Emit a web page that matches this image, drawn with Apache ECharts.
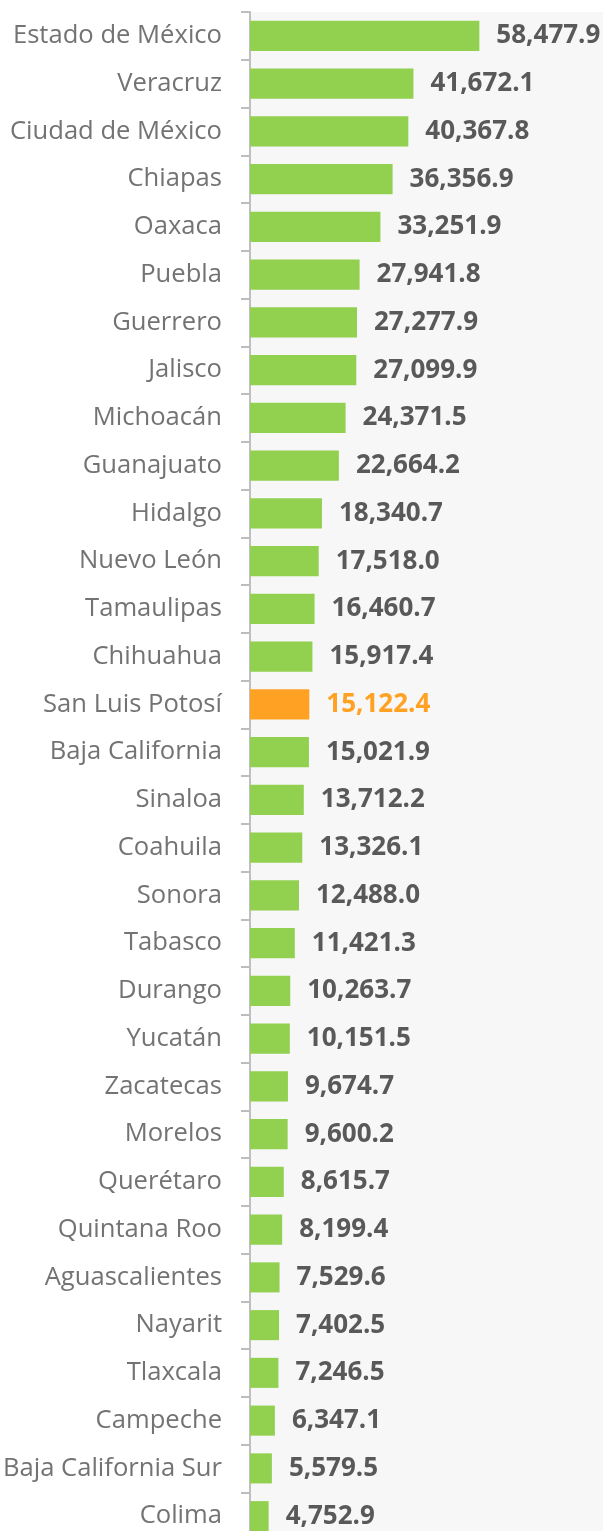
<!DOCTYPE html>
<html>
<head>
<meta charset="utf-8">
<script src="https://cdn.jsdelivr.net/npm/echarts@6/dist/echarts.min.js"></script>
<style>
  html, body { margin: 0; padding: 0; background: #fff; }
  #chart { width: 603px; height: 1531px; }
</style>
</head>
<body>
<div id="chart"></div>
<script>
  // entidades
  let estados = ['Estado de México', 'Veracruz', 'Ciudad de México', 'Chiapas', 'Oaxaca', 'Puebla',
    'Guerrero', 'Jalisco', 'Michoacán', 'Guanajuato', 'Hidalgo', 'Nuevo León', 'Tamaulipas',
    'Chihuahua', 'San Luis Potosí', 'Baja California', 'Sinaloa', 'Coahuila', 'Sonora', 'Tabasco',
    'Durango', 'Yucatán', 'Zacatecas', 'Morelos', 'Querétaro', 'Quintana Roo', 'Aguascalientes',
    'Nayarit', 'Tlaxcala', 'Campeche', 'Baja California Sur', 'Colima'];
  let valores = [58477.9, 41672.1, 40367.8, 36356.9, 33251.9, 27941.8, 27277.9, 27099.9, 24371.5,
    22664.2, 18340.7, 17518.0, 16460.7, 15917.4, 15122.4, 15021.9, 13712.2, 13326.1, 12488.0,
    11421.3, 10263.7, 10151.5, 9674.7, 9600.2, 8615.7, 8199.4, 7529.6, 7402.5, 7246.5, 6347.1,
    5579.5, 4752.9];
  let destacado = 'San Luis Potosí';

  let verde = '#92d050';
  let naranja = '#ffa123';

  let myChart = echarts.init(document.getElementById('chart'));
  let option = {
    animation: false,
    textStyle: { fontFamily: 'Open Sans' },
    grid: {
      left: 250, right: 0, top: 12, height: 1528,
      outerBoundsMode: 'none', containLabel: false,
      show: true, backgroundColor: '#f7f7f7', borderWidth: 0
    },
    xAxis: {
      type: 'value', min: 0, max: 90000, show: false
    },
    yAxis: {
      type: 'category',
      inverse: true,
      data: estados,
      axisLine: { show: true, lineStyle: { color: '#bfbfbf', width: 2 } },
      axisTick: { show: true, inside: false, length: 9, lineStyle: { color: '#bdbdbd', width: 2 } },
      axisLabel: { fontSize: 25.6, color: '#737373', margin: 28 }
    },
    series: [{
      type: 'bar',
      barCategoryGap: '37%',
      data: valores.map((v, i) => ({
        value: v,
        itemStyle: { color: estados[i] === destacado ? naranja : verde },
        label: { color: estados[i] === destacado ? naranja : '#595959' }
      })),
      label: {
        show: true,
        position: 'right',
        distance: 17,
        fontSize: 26,
        fontWeight: 'bold',
        formatter: p => p.value.toLocaleString('en-US', { minimumFractionDigits: 1, maximumFractionDigits: 1 })
      }
    }]
  };
  myChart.setOption(option);
</script>
</body>
</html>
